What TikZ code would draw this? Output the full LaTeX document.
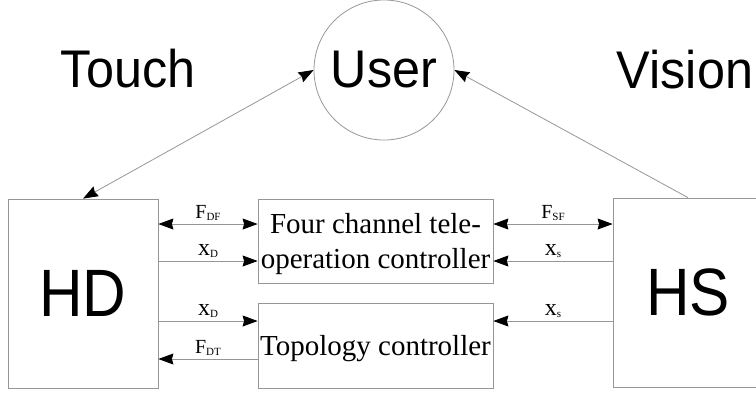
\documentclass[tikz,border=0pt]{standalone}
\usepackage{fontspec}
\setmainfont{Liberation Serif}
\newfontfamily\hsans[FakeStretch=0.95]{Liberation Sans}
\newfontfamily\hsansn[FakeStretch=0.9]{Liberation Sans}
\usetikzlibrary{arrows.meta}
\definecolor{linegray}{RGB}{150,150,150}
\newcommand\lsub[1]{\raisebox{-2.5pt}{\fontsize{11}{11}\selectfont #1}}
\newcommand\bigx{{\fontsize{24}{24}\selectfont x}}
\begin{document}
\begin{tikzpicture}[x=1pt,y=-1pt,
  box/.style={draw=linegray, line width=0.8pt, rectangle, inner sep=0pt},
  conn/.style={draw=linegray, line width=0.8pt},
  tipr/.style={conn, -{Stealth[length=15pt,width=11pt,inset=1.5pt,color=black]}},
  tipb/.style={conn, {Stealth[length=15pt,width=11pt,inset=1.5pt,color=black]}-{Stealth[length=15pt,width=11pt,inset=1.5pt,color=black]}},
  sensefont/.style={font=\hsans\fontsize{53}{60}\selectfont},
  devfont/.style={font=\hsansn\fontsize{67}{70}\selectfont},
  ctrlfont/.style={font=\fontsize{29}{35}\selectfont},
  lbl/.style={anchor=base, yshift=6pt, inner sep=0pt, font=\fontsize{20}{21}\selectfont}]
\useasboundingbox (0,0) rectangle (756,392);
\clip (0,0) rectangle (756,392);
% sense labels
\node[sensefont, inner sep=0pt] (touch) at (128,69) {Touch};
\node[sensefont, inner sep=0pt] (vision) at (685,70) {Vision};
% user
\node[draw=linegray, line width=0.8pt, circle, minimum size=140pt, inner sep=0pt, sensefont] (U) at (384,70) {User};
% devices
\node[box, devfont, minimum width=150pt, minimum height=189pt] (HD) at (83,293.5) {HD};
\node[box, devfont, minimum width=150pt, minimum height=189pt] (HS) at (688,292.5) {HS};
% controllers
\node[box, ctrlfont, align=center, text depth=0pt, minimum width=235pt, minimum height=84pt] (C1) at (375.5,241) {Four channel tele-\\operation controller};
\node[box, ctrlfont, text depth=0pt, minimum width=235pt, minimum height=85pt] (C2) at (375.5,345.5) {Topology controller};
% user links
\draw[tipb] (HD.north) -- (U.west);
\draw[tipr] (HS.north) -- (U.east);
% HD side
\draw[tipb] (HD.east |- 0,224) -- node[lbl] {F\lsub{DF}} (C1.west |- 0,224);
\draw[tipr] (HD.east |- 0,261) -- node[lbl] {\bigx\lsub{D}} (C1.west |- 0,261);
\draw[tipr] (HD.east |- 0,321) -- node[lbl] {\bigx\lsub{D}} (C2.west |- 0,321);
\draw[tipr] (C2.west |- 0,359) -- node[lbl] {F\lsub{DT}} (HD.east |- 0,359);
% HS side
\draw[tipb] (C1.east |- 0,224) -- node[lbl] {F\lsub{SF}} (HS.west |- 0,224);
\draw[tipr] (HS.west |- 0,261) -- node[lbl] {\bigx\lsub{s}} (C1.east |- 0,261);
\draw[tipr] (HS.west |- 0,321) -- node[lbl] {\bigx\lsub{s}} (C2.east |- 0,321);
\end{tikzpicture}
\end{document}
